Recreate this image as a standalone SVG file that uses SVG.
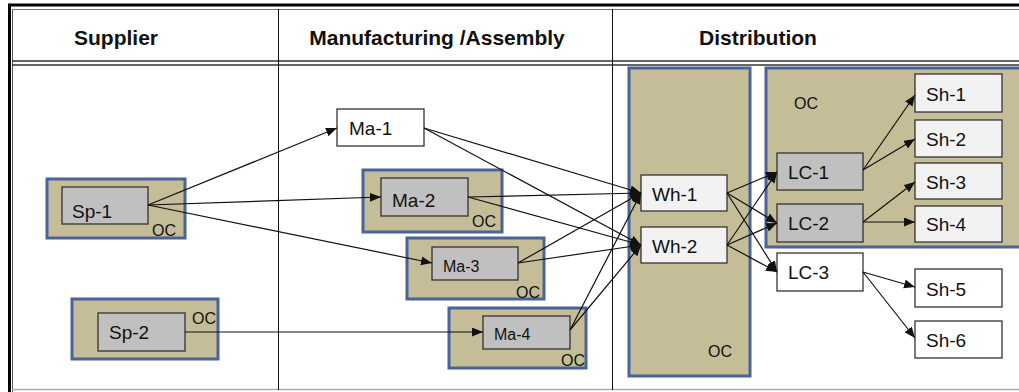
<svg xmlns="http://www.w3.org/2000/svg" width="1019" height="392" viewBox="0 0 1019 392">
  <style>
    .frame { fill: none; stroke: #000; }
    .hdr { font-family: "Liberation Sans", Arial, sans-serif; font-weight: bold; font-size: 21px; fill: #111; text-anchor: middle; }
    .oc { fill: #c4bd97; stroke: #4a6398; stroke-width: 3; }
    .inner { fill: #c0c0c0; stroke: #333; stroke-width: 1.3; }
    .light { fill: #f2f2f2; stroke: #333; stroke-width: 1.3; }
    .plain { fill: #fff; stroke: #333; stroke-width: 1.3; }
    .lbl { font-family: "Liberation Sans", Arial, sans-serif; font-size: 19px; fill: #111; }
    .sm { font-size: 16px; }
    .oct { font-family: "Liberation Sans", Arial, sans-serif; font-size: 16px; fill: #111; }
    .edge { fill: none; stroke: #111; stroke-width: 1.2; marker-end: url(#arrow); }
  </style>
  <defs>
    <marker id="arrow" markerUnits="userSpaceOnUse" markerWidth="12" markerHeight="10" refX="11" refY="4.5" orient="auto">
      <path d="M0,0 L11,4.5 L0,9 Z" fill="#111"/>
    </marker>
  </defs>

  <rect x="0" y="0" width="1019" height="392" fill="#fff"/>

  <!-- table frame -->
  <g id="table">
    <line x1="9.5" y1="4" x2="9.5" y2="392" stroke="#000" stroke-width="3"/>
    <line x1="12.5" y1="9" x2="12.5" y2="392" stroke="#555" stroke-width="1"/>
    <line x1="8" y1="5" x2="1019" y2="5" stroke="#000" stroke-width="3"/>
    <line x1="12" y1="9.5" x2="1019" y2="9.5" stroke="#777" stroke-width="1"/>
    <line x1="12" y1="61" x2="1019" y2="61" stroke="#333" stroke-width="1.5"/>
    <line x1="12" y1="65" x2="1019" y2="65" stroke="#333" stroke-width="1.5"/>
    <line x1="12" y1="389.5" x2="1019" y2="389.5" stroke="#aaa" stroke-width="1.5"/>
    <line x1="278.5" y1="9" x2="278.5" y2="390" stroke="#111" stroke-width="1"/>
    <line x1="612.5" y1="9" x2="612.5" y2="390" stroke="#111" stroke-width="1"/>
    <text class="hdr" x="116" y="45">Supplier</text>
    <text class="hdr" x="437" y="45">Manufacturing /Assembly</text>
    <text class="hdr" x="758" y="45">Distribution</text>
  </g>

  <!-- suppliers -->
  <g id="sp1">
    <rect class="oc" x="47" y="179" width="138" height="59"/>
    <rect class="inner" x="62" y="187" width="86" height="37"/>
    <text class="lbl" x="72" y="218">Sp-1</text>
    <text class="oct" x="152" y="236">OC</text>
  </g>
  <g id="sp2">
    <rect class="oc" x="72" y="299" width="146" height="60"/>
    <rect class="inner" x="98" y="313" width="87" height="38"/>
    <text class="lbl" x="109" y="339">Sp-2</text>
    <text class="oct" x="192" y="324">OC</text>
  </g>

  <!-- manufacturing / assembly -->
  <g id="ma1">
    <rect class="plain" x="337" y="109" width="87" height="37"/>
    <text class="lbl" x="349" y="135">Ma-1</text>
  </g>
  <g id="ma2">
    <rect class="oc" x="363" y="170" width="139" height="62"/>
    <rect class="inner" x="381" y="178" width="87" height="38"/>
    <text class="lbl" x="392" y="207">Ma-2</text>
    <text class="oct" x="472" y="227">OC</text>
  </g>
  <g id="ma3">
    <rect class="oc" x="407" y="238" width="137" height="61"/>
    <rect class="inner" x="432" y="247" width="86" height="33"/>
    <text class="lbl sm" x="443" y="272">Ma-3</text>
    <text class="oct" x="516" y="298">OC</text>
  </g>
  <g id="ma4">
    <rect class="oc" x="449" y="308" width="137" height="60"/>
    <rect class="inner" x="483" y="316" width="87" height="33"/>
    <text class="lbl sm" x="494" y="340">Ma-4</text>
    <text class="oct" x="561" y="366">OC</text>
  </g>

  <!-- distribution: warehouses -->
  <g id="wh">
    <rect class="oc" x="629" y="68" width="121" height="308"/>
    <text class="oct" x="708" y="357">OC</text>
  </g>
  <g id="wh1">
    <rect class="light" x="641" y="175" width="86" height="36"/>
    <text class="lbl" x="652" y="201">Wh-1</text>
  </g>
  <g id="wh2">
    <rect class="light" x="641" y="227" width="86" height="36"/>
    <text class="lbl" x="652" y="253">Wh-2</text>
  </g>

  <!-- distribution: local centres and shops -->
  <g id="lc">
    <rect class="oc" x="766" y="68" width="260" height="179"/>
    <text class="oct" x="794" y="109">OC</text>
  </g>
  <g id="lc1">
    <rect class="inner" x="777" y="153" width="86" height="37"/>
    <text class="lbl" x="788" y="179">LC-1</text>
  </g>
  <g id="lc2">
    <rect class="inner" x="777" y="204" width="86" height="38"/>
    <text class="lbl" x="788" y="230">LC-2</text>
  </g>
  <g id="lc3">
    <rect class="plain" x="777" y="253" width="86" height="38"/>
    <text class="lbl" x="788" y="279">LC-3</text>
  </g>
  <g id="sh1">
    <rect class="light" x="915" y="74" width="87" height="38"/>
    <text class="lbl" x="926" y="101">Sh-1</text>
  </g>
  <g id="sh2">
    <rect class="light" x="915" y="120" width="87" height="37"/>
    <text class="lbl" x="926" y="146">Sh-2</text>
  </g>
  <g id="sh3">
    <rect class="light" x="915" y="163" width="87" height="36"/>
    <text class="lbl" x="926" y="189">Sh-3</text>
  </g>
  <g id="sh4">
    <rect class="light" x="915" y="206" width="87" height="36"/>
    <text class="lbl" x="926" y="231">Sh-4</text>
  </g>
  <g id="sh5">
    <rect class="plain" x="915" y="269" width="87" height="38"/>
    <text class="lbl" x="926" y="296">Sh-5</text>
  </g>
  <g id="sh6">
    <rect class="plain" x="915" y="321" width="87" height="37"/>
    <text class="lbl" x="926" y="347">Sh-6</text>
  </g>

  <!-- connectors -->
  <g id="connectors">
    <line class="edge" x1="148" y1="205" x2="337" y2="128"/>
    <line class="edge" x1="148" y1="205" x2="381" y2="197"/>
    <line class="edge" x1="148" y1="205" x2="432" y2="263"/>
    <line class="edge" x1="185" y1="332" x2="483" y2="332"/>

    <line class="edge" x1="424" y1="128" x2="641" y2="193"/>
    <line class="edge" x1="424" y1="128" x2="641" y2="245"/>
    <line class="edge" x1="468" y1="197" x2="641" y2="193"/>
    <line class="edge" x1="468" y1="197" x2="641" y2="245"/>
    <line class="edge" x1="518" y1="263" x2="641" y2="193"/>
    <line class="edge" x1="518" y1="263" x2="641" y2="245"/>
    <line class="edge" x1="570" y1="330" x2="641" y2="193"/>
    <line class="edge" x1="570" y1="330" x2="641" y2="245"/>

    <line class="edge" x1="727" y1="193" x2="777" y2="172"/>
    <line class="edge" x1="727" y1="193" x2="777" y2="223"/>
    <line class="edge" x1="727" y1="193" x2="777" y2="272"/>
    <line class="edge" x1="727" y1="245" x2="777" y2="172"/>
    <line class="edge" x1="727" y1="245" x2="777" y2="223"/>
    <line class="edge" x1="727" y1="245" x2="777" y2="272"/>

    <line class="edge" x1="863" y1="170" x2="915" y2="95"/>
    <line class="edge" x1="863" y1="170" x2="915" y2="139"/>
    <line class="edge" x1="863" y1="222" x2="915" y2="182"/>
    <line class="edge" x1="863" y1="222" x2="915" y2="222"/>
    <line class="edge" x1="863" y1="272" x2="915" y2="287"/>
    <line class="edge" x1="863" y1="272" x2="915" y2="338"/>
  </g>
</svg>
